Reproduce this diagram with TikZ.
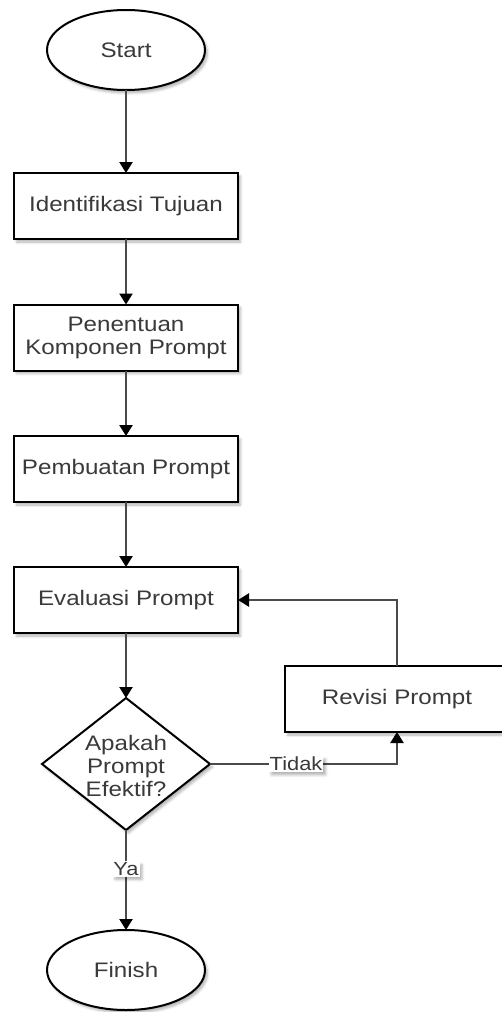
\documentclass[tikz,border=0pt]{standalone}
\usepackage{fontspec}
\setmainfont{Liberation Sans}[FakeStretch=1.15]
\usetikzlibrary{arrows.meta,shapes.geometric,shadows.blur}
\definecolor{txt}{HTML}{3A3A3A}
\definecolor{conn}{HTML}{4A4A4A}
\tikzset{
  shad/.style={blur shadow={shadow xshift=2.5pt,shadow yshift=-3pt,shadow opacity=30,shadow blur radius=2.5pt}},
  base/.style={draw=black,line width=2pt,fill=white,inner sep=0pt,outer sep=0pt,text=txt,
    font=\fontsize{21}{23}\selectfont,align=center,shad},
  procbox/.style={base,rectangle,minimum width=224pt,minimum height=66pt},
  term/.style={base,ellipse,minimum width=158pt,minimum height=80pt},
  decision/.style={base,diamond,minimum width=168pt,minimum height=132pt},
  plain/.style={inner sep=0pt,text=txt,font=\fontsize{21}{23}\selectfont,align=center},
  conn/.style={draw=conn,line width=2.4pt,-{Triangle[width=13pt,length=11pt,color=black]}},
  elabel/.style={fill=white,inner sep=1pt,text=txt,font=\fontsize{19}{21}\selectfont,shad}
}
\begin{document}
\begin{tikzpicture}[x=1pt,y=-1pt]
\useasboundingbox (0,0) rectangle (501,1012);
\node[term] (start) at (126,50) {Start};
\node[procbox] (ident) at (126,206) {Identifikasi Tujuan};
\node[procbox] (komp) at (126,337.5) {Penentuan\\Komponen Prompt};
\node[procbox] (buat) at (126,469) {Pembuatan Prompt};
\node[procbox] (eval) at (126,600) {Evaluasi Prompt};
\node[decision] (dec) at (126,764) {};
\node[plain] (dectext) at (126,766) {Apakah\\Prompt\\Efektif?};
\node[procbox] (rev) at (397,699) {Revisi Prompt};
\node[term] (finish) at (126,970) {Finish};
\draw[conn] (start) -- (ident);
\draw[conn] (ident) -- (komp);
\draw[conn] (komp) -- (buat);
\draw[conn] (buat) -- (eval);
\draw[conn] (eval) -- (dec);
\draw[conn] (dec.east) -- node[elabel,pos=0.46] {Tidak} (dec.east -| rev.south) -- (rev.south);
\draw[conn] (rev.north) |- (eval.east);
\draw[conn] (dec.south) -- node[elabel,pos=0.39] {Ya} (finish.north);
\end{tikzpicture}
\end{document}
